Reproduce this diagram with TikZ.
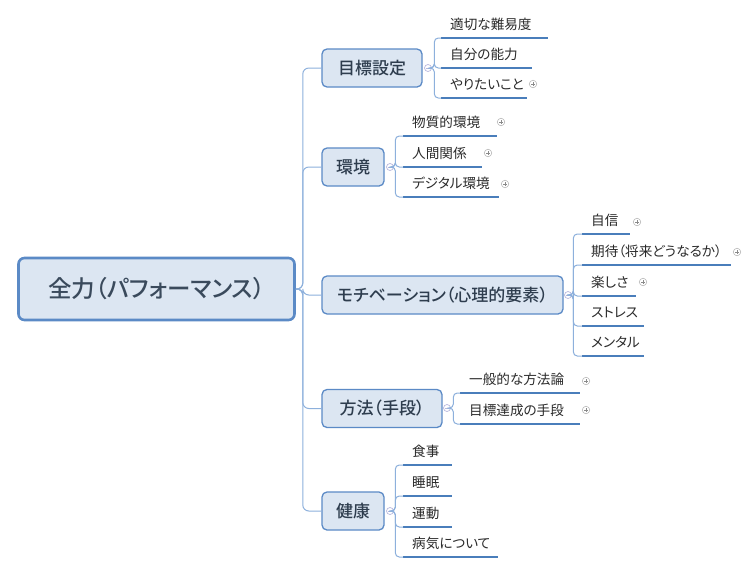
\documentclass[tikz,border=0pt]{standalone}
\usepackage{fontspec}
\setmainfont{Noto Sans CJK JP}[RawFeature=+palt, BoldFont={Noto Sans CJK JP Medium}]
\definecolor{boxfill}{HTML}{DCE6F2}
\definecolor{boxborder}{HTML}{5B8AC6}
\definecolor{roottext}{HTML}{3A4A5C}
\definecolor{branchtext}{HTML}{2E3D4E}
\definecolor{leaftxt}{HTML}{2A2A2A}
\definecolor{ulcolor}{HTML}{4A7EBB}
\definecolor{conncolor}{HTML}{8DB0DC}
\definecolor{togglecol}{HTML}{B8B8DE}
\definecolor{pluscol}{HTML}{8A8A8A}
\newcommand\lf[5]{%
  \coordinate (#1) at (#2,#3);
  \coordinate (#1e) at (#4,#3);
  \draw[uline] (#1) -- (#1e);
  \node[leaftext] (#1t) at (#2+9,#3-9) {#5};
}
\newcommand\pl[3]{\node[plusic] (#1) at (#2,#3) {};}
\begin{document}
\begin{tikzpicture}[x=1pt,y=-1pt,
  rootbox/.style={draw=boxborder, line width=2.6pt, fill=boxfill, rounded corners=6pt,
    minimum width=276pt, minimum height=62pt, inner sep=0,
    font=\fontsize{23.5}{26}\selectfont\bfseries, text=roottext},
  branchbox/.style={draw=boxborder, line width=1.3pt, fill=boxfill, rounded corners=5pt,
    minimum height=38pt, inner sep=0,
    font=\fontsize{17}{20}\selectfont\bfseries, text=branchtext},
  leaftext/.style={anchor=base west, inner sep=0,
    font=\fontsize{13.6}{16}\selectfont, text=leaftxt},
  uline/.style={draw=ulcolor, line width=2.8pt},
  conn/.style={draw=conncolor, line width=1pt, rounded corners=4pt},
  trunk/.style={draw=conncolor, line width=1pt, rounded corners=6pt},
  toggle/.style={circle, draw=togglecol, fill=white, line width=0.7pt,
    minimum size=7pt, inner sep=0,
    path picture={\draw[togglecol, line width=0.6pt]
      ([xshift=-2pt]path picture bounding box.center) -- ([xshift=2pt]path picture bounding box.center);}},
  plusic/.style={circle, draw=pluscol!70, line width=0.5pt,
    minimum size=7.5pt, inner sep=0,
    path picture={\draw[pluscol, line width=0.6pt]
      ([xshift=-2pt]path picture bounding box.center) -- ([xshift=2pt]path picture bounding box.center)
      ([yshift=-2pt]path picture bounding box.center) -- ([yshift=2pt]path picture bounding box.center);}}
]
\useasboundingbox[fill=white] (0,0) rectangle (752,573);

% root and branches
\node[rootbox] (root) at (156.5,289) {全力（パフォーマンス）};
\node[branchbox, minimum width=100pt] (g1) at (372,68) {目標設定};
\node[branchbox, minimum width=62pt] (g2) at (353,167) {環境};
\node[branchbox, minimum width=241pt] (g3) at (442.5,295) {モチベーション（心理的要素）};
\node[branchbox, minimum width=120pt] (g4) at (382,408.5) {方法（手段）};
\node[branchbox, minimum width=62pt] (g5) at (353,511) {健康};

% trunk connectors
\foreach \g in {g1,g2,g3,g4,g5}{
  \draw[trunk] (root.east) -- ++(7,0) |- (\g.west);
}

% leaves
\lf{a1}{441}{38}{548}{適切な難易度}
\lf{a2}{441}{68}{532}{自分の能力}
\lf{a3}{441}{98}{527}{やりたいこと}
\pl{pa3}{533}{84}

\lf{b1}{403}{136}{497}{物質的環境}
\lf{b2}{403}{167}{482}{人間関係}
\lf{b3}{403}{197}{499}{デジタル環境}
\pl{pb1}{501}{122}
\pl{pb2}{488}{153}
\pl{pb3}{505}{184}

\lf{c1}{582}{234}{630}{自信}
\lf{c2}{582}{265}{731}{期待（将来どうなるか）}
\lf{c3}{582}{296}{636}{楽しさ}
\lf{c4}{582}{326}{644}{ストレス}
\lf{c5}{582}{356}{644}{メンタル}
\pl{pc1}{637}{222}
\pl{pc2}{737}{252}
\pl{pc3}{643}{282}

\lf{d1}{460}{393}{580}{一般的な方法論}
\lf{d2}{460}{424}{580}{目標達成の手段}
\pl{pd1}{586}{381}
\pl{pd2}{586}{410}

\lf{e1}{403}{465}{452}{食事}
\lf{e2}{403}{496}{452}{睡眠}
\lf{e3}{403}{527}{452}{運動}
\lf{e4}{403}{557}{498}{病気について}

% toggles
\node[toggle] (t1) at (428,68) {};
\node[toggle] (t2) at (390,167) {};
\node[toggle] (t3) at (568,295) {};
\node[toggle] (t4) at (447,408) {};
\node[toggle] (t5) at (390,511) {};

% leaf connectors
\foreach \l in {a1,a2,a3}{\draw[conn] (t1.east) -- ++(2.5,0) |- (\l);}
\foreach \l in {b1,b2,b3}{\draw[conn] (t2.east) -- ++(1.5,0) |- (\l);}
\foreach \l in {c1,c2,c3,c4,c5}{\draw[conn] (t3.east) -- ++(1.5,0) |- (\l);}
\foreach \l in {d1,d2}{\draw[conn] (t4.east) -- ++(2.5,0) |- (\l);}
\foreach \l in {e1,e2,e3,e4}{\draw[conn] (t5.east) -- ++(1.5,0) |- (\l);}
\end{tikzpicture}
\end{document}
